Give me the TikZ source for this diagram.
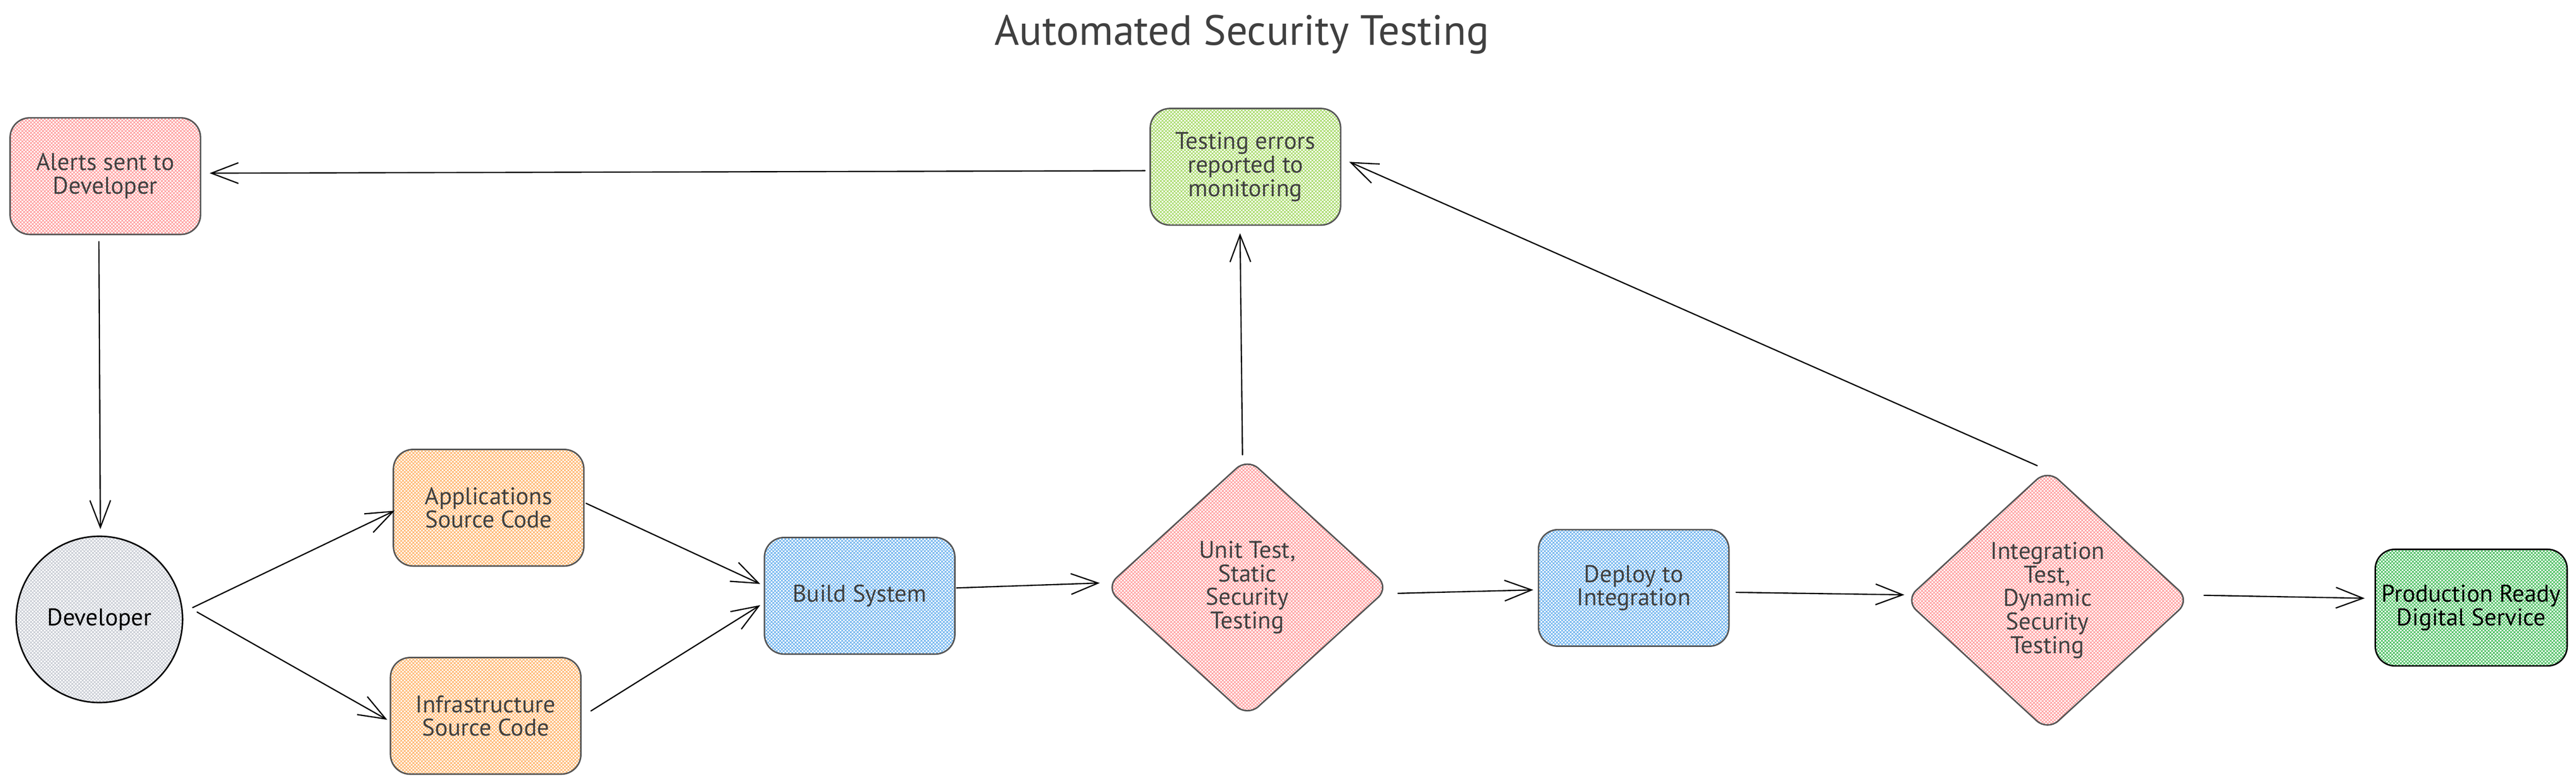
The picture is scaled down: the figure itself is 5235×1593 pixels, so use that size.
\documentclass[tikz,border=0pt]{standalone}
\usepackage{fontspec}
\setmainfont{PT Sans}
\usetikzlibrary{arrows.meta,shapes.geometric,patterns.meta}

\pgfdeclarepattern{
  name=xhatch, type=uncolored,
  bottom left={\pgfpoint{-1pt}{-1pt}}, top right={\pgfpoint{8pt}{8pt}},
  tile size={\pgfpoint{7pt}{7pt}},
  code={
    \pgfsetlinewidth{1.3pt}
    \pgfpathmoveto{\pgfpoint{-1pt}{-1pt}}\pgfpathlineto{\pgfpoint{8pt}{8pt}}
    \pgfpathmoveto{\pgfpoint{-1pt}{8pt}}\pgfpathlineto{\pgfpoint{8pt}{-1pt}}
    \pgfusepath{stroke}
  }
}

\definecolor{bordergray}{HTML}{555555}
\definecolor{txtgray}{HTML}{404040}
\definecolor{hred}{HTML}{FF9C9C}
\definecolor{horange}{HTML}{FFB46A}
\definecolor{hblue}{HTML}{6CB2EE}
\definecolor{hlime}{HTML}{A6DA66}
\definecolor{hgreen}{HTML}{46BE5C}
\definecolor{hgray}{HTML}{C6CAD2}

\newcommand{\bodyfnt}{\fontsize{49pt}{48pt}\selectfont}
\newcommand{\titlefnt}{\fontsize{86pt}{90pt}\selectfont}

\tikzset{
  hatched/.style={preaction={fill=white}, preaction={pattern=xhatch, pattern color=#1}},
  box/.style={hatched=#1, draw=bordergray, line width=3pt, rounded corners=40pt,
    minimum width=387pt, minimum height=237pt, inner sep=0pt, align=center,
    text=txtgray, font=\bodyfnt},
  dia/.style={hatched=#1, shape=diamond, draw=bordergray, line width=3pt, rounded corners=30pt,
    minimum width=577pt, minimum height=526pt, inner sep=0pt, align=center,
    text=txtgray, font=\bodyfnt},
  blob/.style={hatched=#1, shape=circle, draw=black, line width=3pt,
    minimum size=338pt, inner sep=0pt, align=center, text=black, font=\bodyfnt},
  arr/.style={-{Straight Barb[length=55pt,width=42pt]}, line width=2.5pt, black, line cap=round},
}

\begin{document}
\begin{tikzpicture}[x=1pt,y=-1pt]
\fill[white] (0,0) rectangle (5235,1593);
\useasboundingbox (0,0) rectangle (5235,1593);

\node[text=txtgray, font=\titlefnt, anchor=base] (title) at (2524,92) {Automated Security Testing};

\node[box=hred] (alerts) at (214,358) {Alerts sent to\\Developer};
\node[box=hlime] (tests) at (2531,339) {Testing errors\\reported to\\monitoring};
\node[blob=hgray] (dev) at (202,1259) {Developer};
\node[box=horange] (apps) at (993,1032) {Applications\\Source Code};
\node[box=horange] (infra) at (987,1455) {Infrastructure\\Source Code};
\node[box=hblue] (build) at (1747,1211) {Build System};
\node[dia=hred] (unit) at (2535,1194) {Unit Test,\\Static\\Security\\Testing};
\node[box=hblue] (deploy) at (3320,1195) {Deploy to\\Integration};
\node[dia=hred, minimum width=579pt, minimum height=532pt] (integ) at (4161,1220) {Integration\\Test,\\Dynamic\\Security\\Testing};
\node[box=hgreen, draw=black, text=black, minimum width=390pt] (prod) at (5022,1235) {Production Ready\\Digital Service};

\draw[arr] ([xshift=-9pt,yshift=-8pt]tests.west) -- ([xshift=17pt,yshift=6pt]alerts.east);
\draw[arr] ([xshift=-13pt,yshift=-13pt]alerts.south) -- ([xshift=2pt,yshift=13pt]dev.north);
\draw[arr] ([xshift=19pt,yshift=24pt]dev.east) -- ([xshift=4pt,yshift=-6pt]apps.west);
\draw[arr] ([xshift=28pt,yshift=15pt]dev.east) -- ([xshift=-5pt,yshift=-8pt]infra.west);
\draw[arr] ([xshift=3pt,yshift=9pt]apps.east) -- ([xshift=-7pt,yshift=24pt]build.west);
\draw[arr] ([xshift=19pt,yshift=10pt]infra.east) -- ([xshift=-7pt,yshift=-19pt]build.west);
\draw[arr] ([xshift=2pt,yshift=16pt]build.east) -- ([xshift=-10pt,yshift=9pt]unit.west);
\draw[arr] ([xshift=-10pt,yshift=5pt]unit.north) -- ([xshift=-11pt,yshift=-15pt]tests.south);
\draw[arr] ([xshift=16pt,yshift=-12pt]unit.east) -- ([xshift=-9pt,yshift=-4pt]deploy.west);
\draw[arr] ([xshift=13pt,yshift=-9pt]deploy.east) -- ([xshift=0pt,yshift=11pt]integ.west);
\draw[arr] ([xshift=-21pt,yshift=6pt]integ.north) -- ([xshift=16pt,yshift=10pt]tests.east);
\draw[arr] ([xshift=27pt,yshift=10pt]integ.east) -- ([xshift=-20pt,yshift=19pt]prod.west);
\end{tikzpicture}
\end{document}
